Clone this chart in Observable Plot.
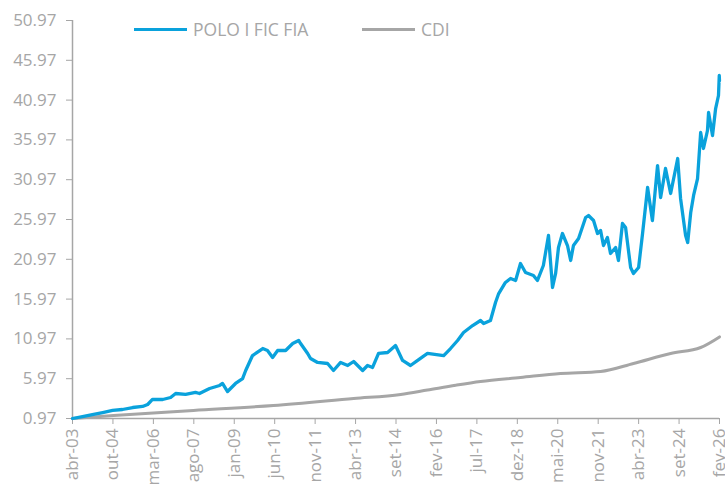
<!DOCTYPE html>
<html><head><meta charset="utf-8">
<script src="https://cdn.jsdelivr.net/npm/d3@7"></script>
<script src="https://cdn.jsdelivr.net/npm/@observablehq/plot@0.6"></script>
<style>
body{margin:0;background:#fff;font-family:"Open Sans",sans-serif;}
#wrap{position:relative;width:725px;height:486px;overflow:hidden;}
.leg{position:absolute;top:18px;height:22px;display:flex;align-items:center;font-size:17.5px;color:#a6a6a6;white-space:nowrap;}
.sw{display:inline-block;width:53px;height:3px;margin-right:6px;}
</style></head><body>
<div id="wrap"><div id="chart"></div><div id="legend"></div></div>
<script>
// ---- data ----
const seriesNames = ["POLO I FIC FIA", "CDI"];
const seriesColors = ["#0aa2dc", "#a6a6a6"];

const fundDates = ["2003-04-15","2003-08-22","2003-12-27","2004-05-08","2004-09-13","2005-01-18","2005-05-30","2005-10-04","2005-12-09","2006-02-09","2006-06-21","2006-10-01","2006-12-05","2007-04-12","2007-08-18","2007-10-08","2008-02-16","2008-06-24","2008-07-31","2008-10-04","2009-01-15","2009-04-16","2009-05-26","2009-08-22","2010-01-01","2010-03-03","2010-05-08","2010-07-12","2010-10-23","2011-01-22","2011-04-09","2011-05-04","2011-08-03","2011-09-09","2011-12-09","2012-04-16","2012-07-01","2012-10-01","2013-01-01","2013-03-18","2013-07-12","2013-09-13","2013-11-17","2014-02-02","2014-05-30","2014-09-09","2014-12-09","2015-03-21","2015-06-21","2015-10-26","2016-05-22","2016-08-18","2016-11-17","2017-02-02","2017-05-30","2017-09-09","2017-10-19","2018-01-15","2018-03-21","2018-05-01","2018-07-27","2018-10-01","2018-12-05","2019-02-06","2019-04-12","2019-07-23","2019-09-13","2019-11-28","2020-02-02","2020-03-25","2020-05-04","2020-06-10","2020-07-31","2020-10-04","2020-11-14","2020-12-20","2021-02-24","2021-05-26","2021-07-02","2021-09-05","2021-10-26","2021-12-05","2022-01-11","2022-03-03","2022-04-12","2022-06-17","2022-07-23","2022-09-13","2022-10-23","2022-12-27","2023-02-02","2023-04-09","2023-05-30","2023-08-03","2023-10-04","2023-12-09","2024-01-18","2024-03-21","2024-05-26","2024-08-25","2024-10-01","2024-12-05","2025-01-01","2025-02-09","2025-03-18","2025-05-08","2025-06-17","2025-07-23","2025-09-13","2025-09-27","2025-11-17","2025-12-27","2026-02-02","2026-02-12","2026-02-15"];
const fundValues = [0.97,1.22,1.47,1.72,1.98,2.10,2.35,2.48,2.73,3.36,3.36,3.61,4.11,3.99,4.24,4.11,4.74,5.12,5.37,4.36,5.37,5.99,7.00,8.88,9.76,9.51,8.63,9.51,9.51,10.39,10.77,10.39,9.14,8.51,8.01,7.88,7.00,8.01,7.63,8.13,7.00,7.63,7.38,9.14,9.26,10.14,8.26,7.63,8.26,9.14,8.88,9.76,10.77,11.77,12.65,13.28,12.90,13.28,15.54,16.67,18.06,18.56,18.31,20.44,19.31,18.94,18.31,20.19,23.96,17.43,19.19,22.45,24.21,22.70,20.82,22.70,23.58,26.22,26.47,25.84,24.21,24.59,22.70,23.71,21.70,22.45,20.82,25.47,24.97,19.94,19.19,19.94,24.21,29.99,25.84,32.75,28.73,32.38,29.24,33.63,28.61,23.96,23.08,26.85,28.99,31.12,36.90,34.89,37.15,39.41,36.52,39.91,41.55,44.06,43.40];

const cdiDates = ["2003-04-15","2004-09-27","2007-07-23","2010-05-19","2013-03-18","2014-11-14","2015-10-26","2016-10-23","2017-09-09","2019-02-06","2020-07-05","2021-12-05","2023-02-02","2024-05-26","2025-06-17","2026-02-15"];
const cdiValues = [0.97,1.35,1.98,2.60,3.48,3.99,4.55,5.15,5.62,6.12,6.62,6.87,7.88,9.14,9.89,11.22];

const yTicks = [0.97,5.97,10.97,15.97,20.97,25.97,30.97,35.97,40.97,45.97,50.97];
const xLabels = ["abr-03","out-04","mar-06","ago-07","jan-09","jun-10","nov-11","abr-13","set-14","fev-16","jul-17","dez-18","mai-20","nov-21","abr-23","set-24","fev-26"];
const xStart = "2003-04-15", xEnd = "2026-02-15";

// ---- build ----
const parse = d3.utcParse("%Y-%m-%d");
const fund = fundDates.map((d, i) => ({date: parse(d), value: fundValues[i]}));
const cdi = cdiDates.map((d, i) => ({date: parse(d), value: cdiValues[i]}));
const x0 = parse(xStart), x1 = parse(xEnd);
const tickDates = xLabels.map((_, i) => new Date(+x0 + i * (x1 - x0) / (xLabels.length - 1)));
const labelOf = new Map(tickDates.map((d, i) => [+d, xLabels[i]]));
const axisColor = "#a6a6a6";

const chart = Plot.plot({
  width: 725, height: 486,
  marginLeft: 72, marginRight: 6, marginTop: 20, marginBottom: 68,
  style: {fontFamily: '"Open Sans", sans-serif', fontSize: "17px", color: axisColor, background: "#fff"},
  x: {type: "utc", domain: [x0, x1], label: null},
  y: {domain: [0.97, 50.97], label: null},
  marks: [
    Plot.axisY(yTicks, {tickSize: 6, tickPadding: 10, tickFormat: d => d.toFixed(2), color: axisColor, fontSize: 17, label: null}),
    Plot.axisX(tickDates, {tickSize: 6, tickPadding: 4, tickRotate: -90, tickFormat: d => labelOf.get(+d), color: axisColor, fontSize: 17, label: null}),
    Plot.ruleX([x0], {stroke: axisColor, strokeWidth: 1.5}),
    Plot.ruleY([0.97], {stroke: axisColor, strokeWidth: 1.5}),
    Plot.line(cdi, {x: "date", y: "value", stroke: seriesColors[1], strokeWidth: 3, curve: "monotone-x"}),
    Plot.line(fund, {x: "date", y: "value", stroke: seriesColors[0], strokeWidth: 3.3, strokeLinejoin: "round"})
  ]
});
document.getElementById("chart").appendChild(chart);

const legendLefts = [134, 362];
const legend = document.getElementById("legend");
seriesNames.forEach((name, i) => {
  const item = document.createElement("div");
  item.className = "leg";
  item.style.left = legendLefts[i] + "px";
  const sw = document.createElement("span");
  sw.className = "sw";
  sw.style.background = seriesColors[i];
  item.appendChild(sw);
  item.appendChild(document.createTextNode(name));
  legend.appendChild(item);
});
</script>
</body></html>
